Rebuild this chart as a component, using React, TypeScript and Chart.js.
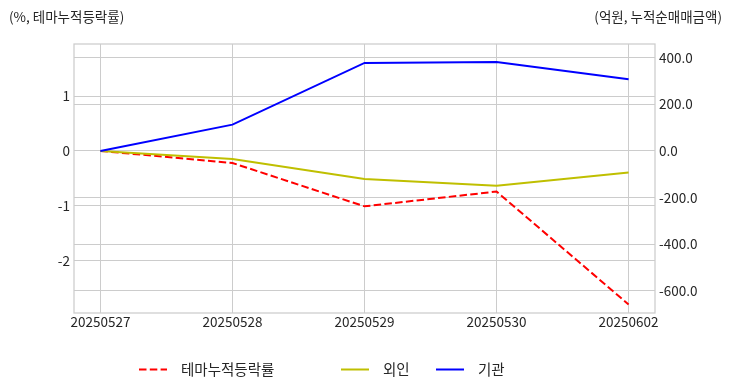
import React, { useEffect, useRef } from 'react';
import { Chart, registerables } from 'chart.js';

Chart.register(...registerables);

const dates = ['20250527', '20250528', '20250529', '20250530', '20250602'];
const themeReturn = [0, -0.22, -1.01, -0.74, -2.8];
const foreignNet = [0, -34, -120, -149, -92];
const institutionNet = [0, 113, 378, 382, 308];
const leftTicks = [-2, -1, 0, 1];
const rightTicks = [-600, -400, -200, 0, 200, 400];
const seriesNames = ['테마누적등락률', '외인', '기관'];
const leftTitle = '(%, 테마누적등락률)';
const rightTitle = '(억원, 누적순매매금액)';

const FONT = '"Noto Sans CJK KR", "Noto Sans", sans-serif';
const TEXT = '#262626';
const GRID = '#cccccc';

const legendX = [139, 341, 436];

const decorPlugin = {
  id: 'decor',
  beforeDatasetsDraw(chart: any) {
    const { ctx, chartArea } = chart;
    ctx.save();
    ctx.strokeStyle = GRID;
    ctx.lineWidth = 1.25;
    ctx.strokeRect(chartArea.left, chartArea.top, chartArea.right - chartArea.left, chartArea.bottom - chartArea.top);
    ctx.restore();
  },
  afterDraw(chart: any) {
    const { ctx } = chart;
    ctx.save();
    ctx.fillStyle = TEXT;
    ctx.font = `13.5px ${FONT}`;
    ctx.textBaseline = 'middle';
    ctx.textAlign = 'left';
    ctx.fillText(leftTitle, 9, 17);
    ctx.textAlign = 'right';
    ctx.fillText(rightTitle, 722, 17);

    ctx.font = `14.5px ${FONT}`;
    ctx.textAlign = 'left';
    chart.data.datasets.forEach((ds: any, i: number) => {
      const x = legendX[i];
      const y = 369.5;
      ctx.save();
      ctx.strokeStyle = ds.borderColor;
      ctx.lineWidth = ds.borderWidth;
      ctx.setLineDash(ds.borderDash || []);
      ctx.beginPath();
      ctx.moveTo(x, y);
      ctx.lineTo(x + 28, y);
      ctx.stroke();
      ctx.restore();
      ctx.fillStyle = TEXT;
      ctx.fillText(ds.label, x + 42, y);
    });
    ctx.restore();
  },
};

export default function App() {
  const ref = useRef<HTMLCanvasElement | null>(null);

  useEffect(() => {
    if (!ref.current) return;
    const toPoints = (arr: number[]) => arr.map((y, i) => ({ x: i, y }));
    const chart = new Chart(ref.current, {
      type: 'line',
      data: {
        datasets: [
          {
            label: seriesNames[0],
            data: toPoints(themeReturn),
            yAxisID: 'y',
            borderColor: '#ff0000',
            borderWidth: 2,
            borderDash: [7.5, 3.3],
            pointRadius: 0,
            tension: 0,
            order: 3,
          },
          {
            label: seriesNames[1],
            data: toPoints(foreignNet),
            yAxisID: 'y1',
            borderColor: '#bfbf00',
            borderWidth: 2,
            pointRadius: 0,
            tension: 0,
            order: 2,
          },
          {
            label: seriesNames[2],
            data: toPoints(institutionNet),
            yAxisID: 'y1',
            borderColor: '#0000ff',
            borderWidth: 2,
            pointRadius: 0,
            tension: 0,
            order: 1,
          },
        ],
      },
      options: {
        responsive: false,
        animation: false,
        layout: { padding: { top: 44, left: 0, right: 0, bottom: 0 } },
        plugins: { legend: { display: false }, tooltip: { enabled: false } },
        scales: {
          x: {
            type: 'linear',
            min: -0.2,
            max: 4.2,
            afterBuildTicks: (s: any) => {
              s.ticks = dates.map((_, i) => ({ value: i }));
            },
            afterFit: (s: any) => {
              s.height = 79;
            },
            ticks: {
              callback: (v: any) => dates[v] ?? '',
              font: { family: FONT, size: 13.5 },
              color: TEXT,
              padding: 1,
              maxRotation: 0,
              autoSkip: false,
            },
            grid: { color: GRID, drawTicks: false, lineWidth: 1 },
            border: { display: false },
          },
          y: {
            type: 'linear',
            position: 'left',
            min: -2.955,
            max: 1.95,
            afterBuildTicks: (s: any) => {
              s.ticks = leftTicks.map((v) => ({ value: v }));
            },
            afterFit: (s: any) => {
              s.width = 74;
            },
            ticks: {
              callback: (v: any) => String(v),
              font: { family: FONT, size: 13.5 },
              color: TEXT,
              padding: 4,
            },
            grid: { color: GRID, drawTicks: false, lineWidth: 1 },
            border: { display: false },
          },
          y1: {
            type: 'linear',
            position: 'right',
            min: -695,
            max: 459,
            afterBuildTicks: (s: any) => {
              s.ticks = rightTicks.map((v) => ({ value: v }));
            },
            afterFit: (s: any) => {
              s.width = 77;
            },
            ticks: {
              callback: (v: any) => Number(v).toFixed(1),
              font: { family: FONT, size: 13.5 },
              color: TEXT,
              padding: 4,
            },
            grid: { color: GRID, drawTicks: false, lineWidth: 1 },
            border: { display: false },
          },
        },
      } as any,
      plugins: [decorPlugin],
    });
    return () => chart.destroy();
  }, []);

  return (
    <div style={{ position: 'fixed', left: 0, top: 0, width: 732, height: 392, background: '#fff' }}>
      <canvas ref={ref} width={732} height={392} style={{ width: 732, height: 392 }} />
    </div>
  );
}
